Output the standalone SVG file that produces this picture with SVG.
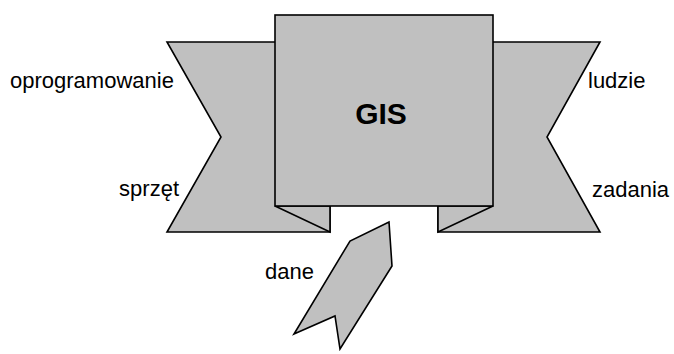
<svg xmlns="http://www.w3.org/2000/svg" width="674" height="354" viewBox="0 0 674 354">
<style>
.s{fill:#c0c0c0;stroke:#000;stroke-width:1.6;stroke-linejoin:miter}
.t{font-family:"Liberation Sans",Arial,sans-serif;font-size:22px;fill:#000}
.b{font-family:"Liberation Sans",Arial,sans-serif;font-size:30px;font-weight:bold;fill:#000}
</style>
<rect width="674" height="354" fill="#fff"/>
<g id="left-banner">
<polygon class="s" points="167,42 330,42 330,232 167,232 221,137"/>
<polygon class="s" points="275,206 330,206 330,232"/>
<text class="t" x="10" y="88">oprogramowanie</text>
<text class="t" x="179" y="196" text-anchor="end">sprzęt</text>
</g>
<g id="right-banner">
<polygon class="s" points="438,42 600,42 547,137 600,232 438,232"/>
<polygon class="s" points="438,206 493,206 438,232"/>
<text class="t" x="588" y="88">ludzie</text>
<text class="t" x="592" y="197">zadania</text>
</g>
<g id="gis">
<rect class="s" x="275" y="15" width="218" height="191"/>
<text class="b" x="381" y="124" text-anchor="middle">GIS</text>
</g>
<g id="dane">
<polygon class="s" points="389,222 392,266 340,349 335,316 294,334 350,241"/>
<text class="t" x="265" y="279">dane</text>
</g>
<g id="connectors"/>
</svg>
